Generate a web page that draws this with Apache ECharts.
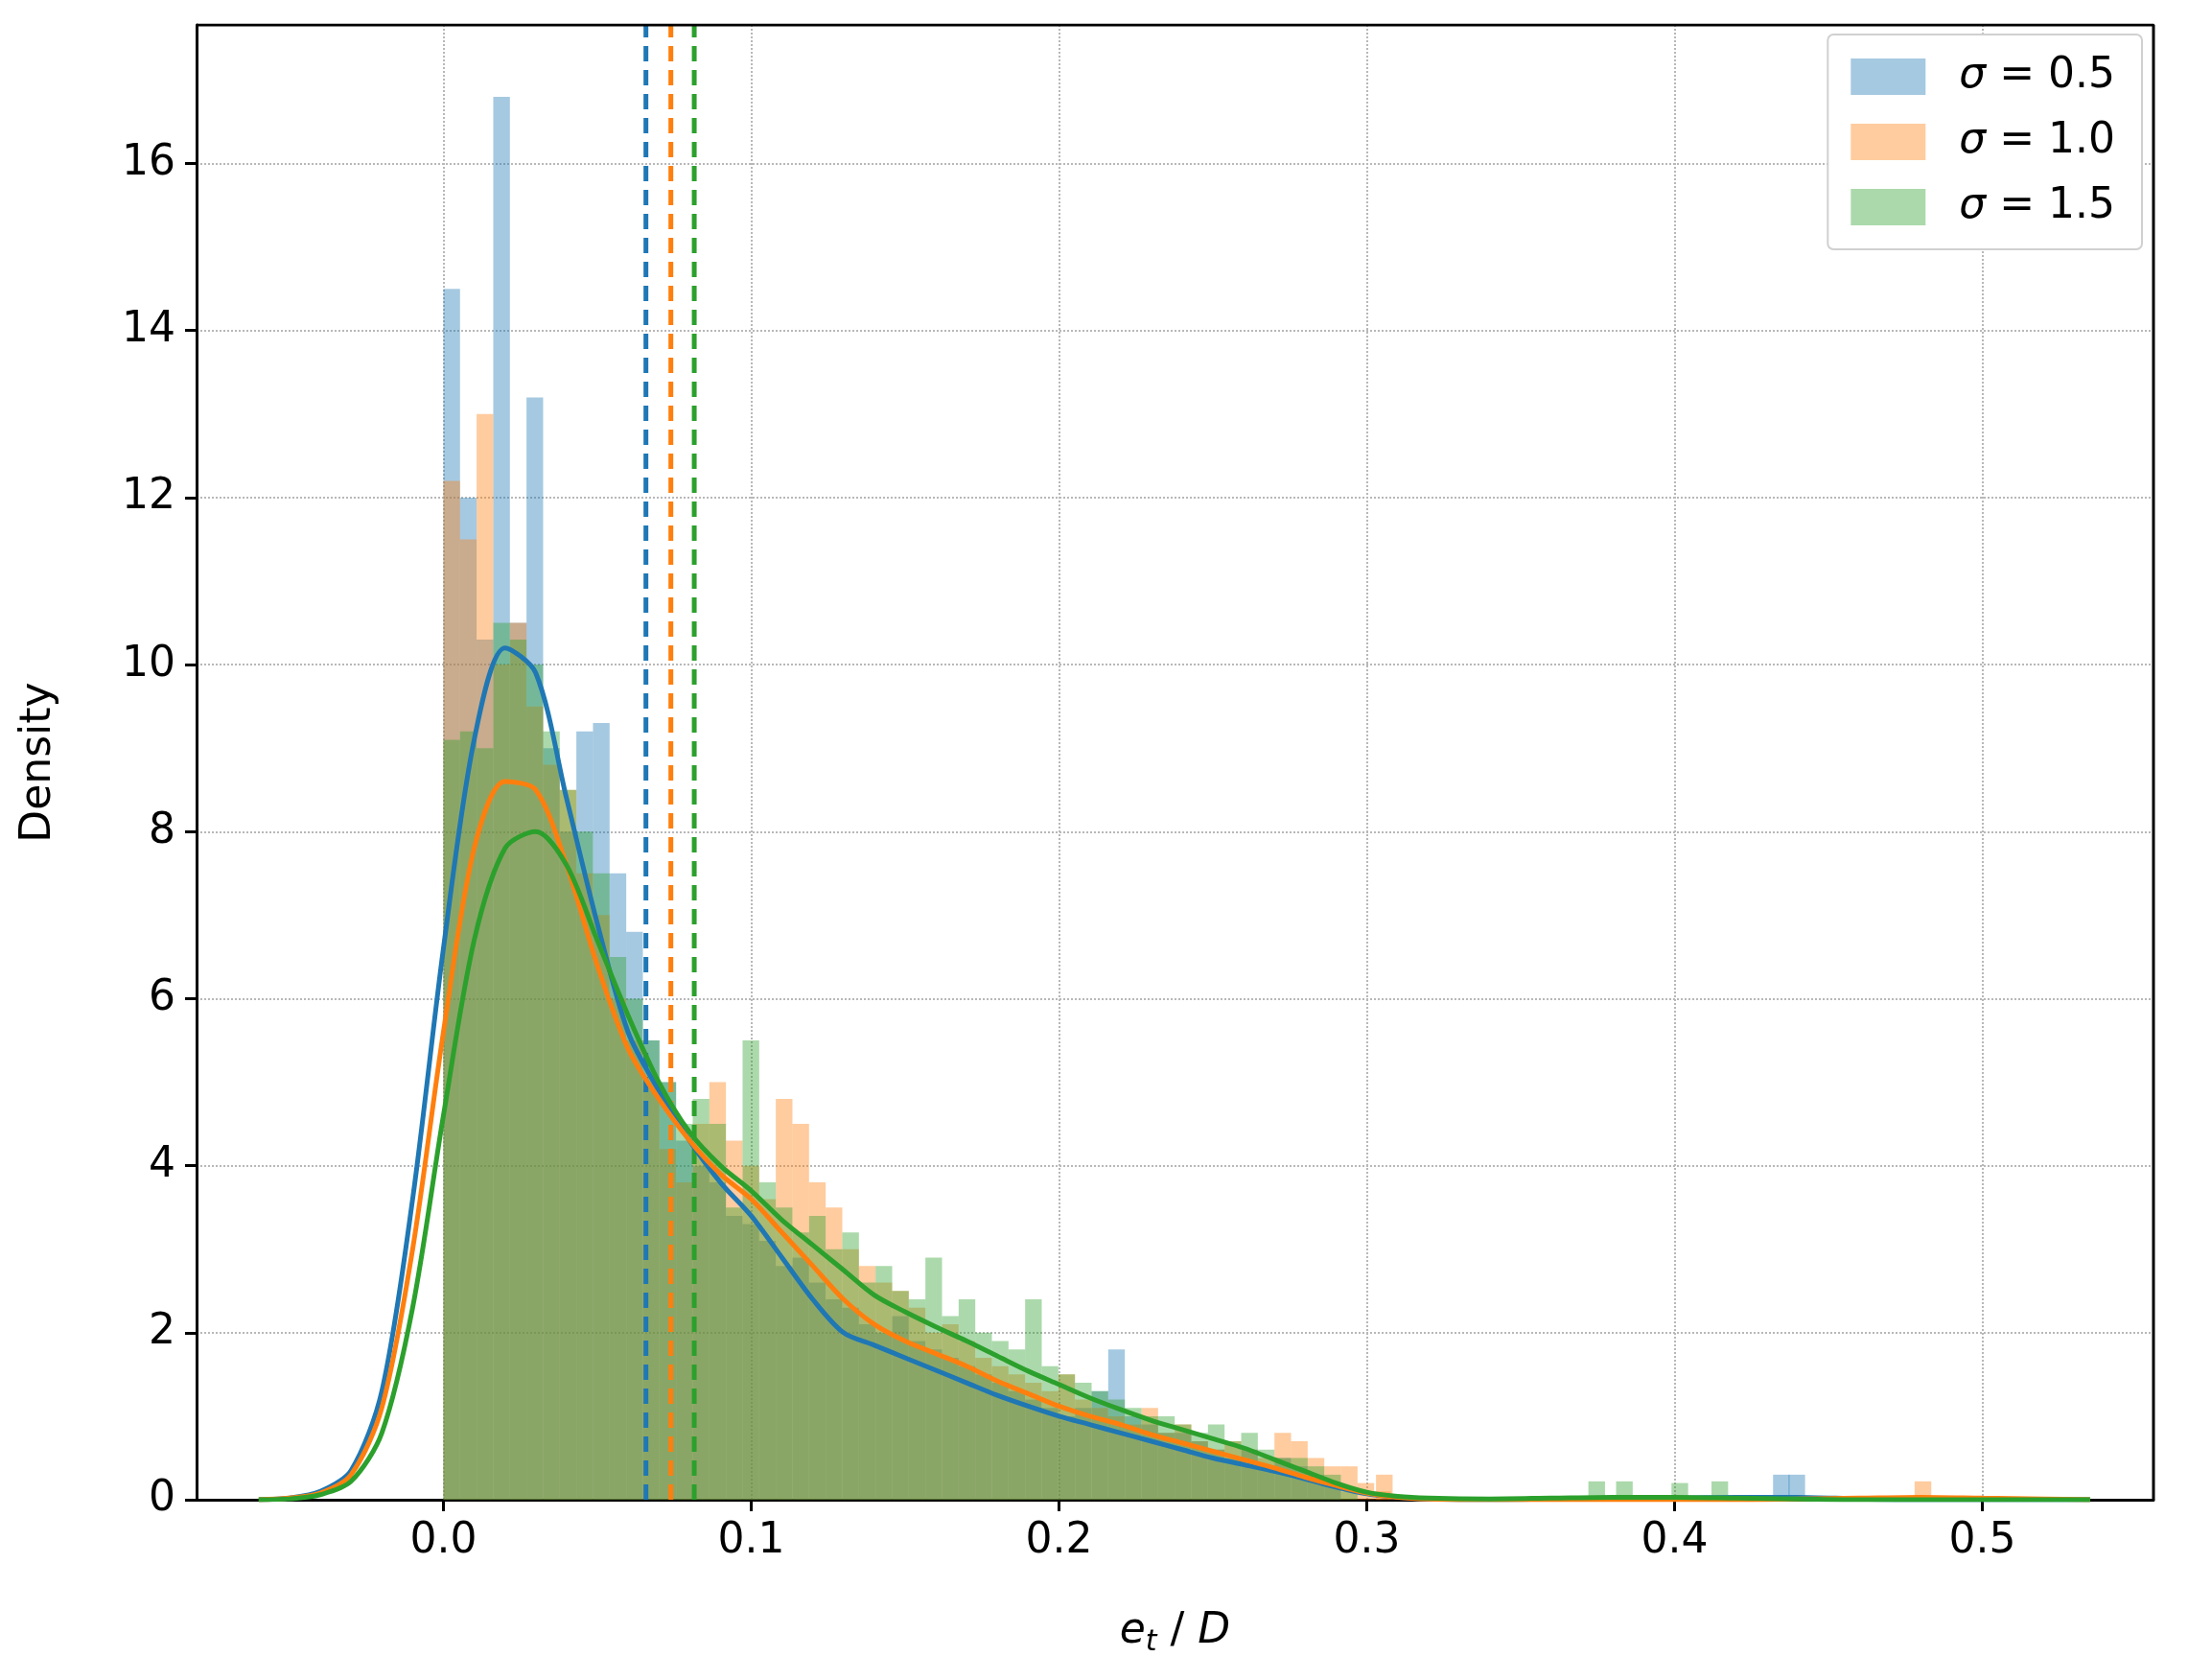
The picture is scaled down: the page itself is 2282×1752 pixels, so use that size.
<!DOCTYPE html>
<html>
<head>
<meta charset="utf-8">
<script src="https://cdn.jsdelivr.net/npm/echarts@6/dist/echarts.min.js"></script>
<style>html,body{margin:0;padding:0;background:#fff}#main{width:2282px;height:1752px}</style>
</head>
<body>
<div id="main"></div>
<script>
// histogram bins start at 0, fixed width
const binWidth = 0.0054;
const histBlue = [14.5,12.0,10.3,16.8,10.5,13.2,9.0,8.0,9.2,9.3,7.5,6.8,5.5,5.0,4.3,4.0,3.8,3.4,3.3,3.1,2.8,2.9,2.6,2.4,2.3,2.1,2.0,2.2,1.9,1.8,1.7,1.6,1.5,1.4,1.3,1.2,1.1,1.0,1.1,1.3,1.8,1.0,0.9,0.8,0.8,0.7,0.6,0.5,0.6,0.4,0.5,0.4,0.3,0.2,0.0];
const histOrange = [12.2,11.5,13.0,10.0,10.5,9.5,8.8,8.5,7.5,7.0,6.0,5.5,5.0,4.2,3.8,4.5,5.0,4.3,4.0,3.6,4.8,4.5,3.8,3.5,3.0,2.8,2.6,2.5,2.3,2.0,2.1,1.9,1.7,1.6,1.5,1.4,1.3,1.5,1.2,1.1,1.0,0.9,1.1,0.8,0.9,0.7,0.6,0.7,0.6,0.5,0.8,0.7,0.5,0.4,0.4,0.2,0.1];
const histGreen = [9.1,9.2,9.0,10.5,10.3,10.0,9.2,8.5,8.0,7.5,6.5,6.0,5.5,5.0,4.5,4.8,4.5,3.5,5.5,3.8,3.5,3.2,3.4,3.0,3.2,2.6,2.8,2.5,2.4,2.9,2.2,2.4,2.0,1.9,1.8,2.4,1.6,1.5,1.4,1.3,1.2,1.1,1.0,1.0,0.9,0.8,0.9,0.7,0.8,0.6,0.5,0.5,0.4,0.3,0.1];
// sparse outlier bins [x, height]
const outBlue = [[0.432,0.3],[0.437,0.3]];
const outOrange = [[0.478,0.22],[0.303,0.3]];
const outGreen = [[0.372,0.22],[0.381,0.22],[0.399,0.2],[0.412,0.22]];

const kdeX = [-0.06,-0.05,-0.04,-0.03,-0.02,-0.01,0,0.01,0.02,0.03,0.04,0.05,0.06,0.07,0.08,0.09,0.1,0.11,0.12,0.13,0.14,0.15,0.16,0.17,0.18,0.19,0.2,0.21,0.22,0.23,0.24,0.25,0.26,0.27,0.28,0.29,0.3,0.31,0.32,0.34,0.36,0.38,0.4,0.42,0.44,0.46,0.48,0.5,0.52,0.535];
const kdeBlue = [0,0.02,0.1,0.35,1.3,3.6,6.6,9.1,10.2,9.9,8.4,6.9,5.6,4.9,4.3,3.8,3.4,2.9,2.4,2.0,1.85,1.7,1.55,1.4,1.25,1.12,1.0,0.9,0.8,0.7,0.6,0.5,0.42,0.34,0.25,0.15,0.07,0.03,0.01,0.0,0.01,0.02,0.02,0.03,0.03,0.01,0.0,0.0,0.0,0.0];
const kdeOrange = [0,0.02,0.08,0.3,1.1,3.0,5.6,7.8,8.6,8.5,7.6,6.4,5.4,4.8,4.3,3.9,3.6,3.2,2.8,2.4,2.1,1.9,1.75,1.6,1.42,1.27,1.12,1.0,0.9,0.78,0.68,0.58,0.48,0.38,0.27,0.17,0.08,0.03,0.01,0.0,0.0,0.0,0.0,0.0,0.01,0.02,0.03,0.02,0.01,0.0];
const kdeGreen = [0,0.01,0.06,0.22,0.8,2.3,4.6,6.7,7.8,8.0,7.6,6.7,5.8,5.0,4.4,4.0,3.7,3.35,3.05,2.75,2.45,2.25,2.07,1.9,1.72,1.54,1.38,1.22,1.08,0.95,0.84,0.73,0.62,0.48,0.34,0.2,0.09,0.04,0.02,0.01,0.02,0.03,0.03,0.02,0.01,0.0,0.0,0.0,0.0,0.0];
// mean markers (dashed verticals)
const meanX = [0.0658, 0.0739, 0.0815];

const names = ['σ = 0.5', 'σ = 1.0', 'σ = 1.5'];
const colors = ['#1f77b4', '#ff7f0e', '#2ca02c'];
const xTicks = [0.0, 0.1, 0.2, 0.3, 0.4, 0.5];
const yMax = 17.66;

function bins(h, out) {
  const d = h.map((v, i) => [i * binWidth, (i + 1) * binWidth, v]);
  out.forEach(o => d.push([o[0], o[0] + binWidth, o[1]]));
  return d;
}

function histSeries(name, color, data) {
  return {
    name: name, type: 'custom', z: 1,
    itemStyle: { color: color, opacity: 0.4 },
    renderItem: function (params, api) {
      const p0 = api.coord([api.value(0), api.value(2)]);
      const p1 = api.coord([api.value(1), 0]);
      return { type: 'rect', shape: { x: p0[0], y: p0[1], width: p1[0] - p0[0], height: p1[1] - p0[1] },
        style: { fill: color, opacity: 0.4 } };
    },
    encode: { x: [0, 1], y: 2 },
    data: data
  };
}

function kdeSeries(ys, color) {
  return { type: 'line', smooth: 0.3, showSymbol: false, z: 5, silent: true,
    lineStyle: { color: color, width: 5 },
    data: kdeX.map((x, i) => [x, ys[i]]) };
}

function vline(x, color) {
  return { type: 'line', showSymbol: false, z: 4, silent: true,
    lineStyle: { color: color, width: 5, type: [16, 9] },
    data: [[x, 0], [x, yMax]] };
}

const chart = echarts.init(document.getElementById('main'));
const font = 'DejaVu Sans';
chart.setOption({
  animation: false,
  textStyle: { fontFamily: font },
  grid: { left: 205, right: 36, top: 26, bottom: 188 },
  legend: {
    data: names.map(n => ({ name: n, icon: 'rect' })), right: 48, top: 36, orient: 'vertical',
    itemWidth: 78, itemHeight: 38, itemGap: 24,
    padding: [22, 28, 22, 24],
    borderColor: '#d0d0d0', borderWidth: 2, borderRadius: 6,
    backgroundColor: '#fff',
    formatter: n => '{g|σ}' + n.slice(1),
    textStyle: { fontSize: 44, color: '#000', fontFamily: font, padding: [0, 0, 0, 30],
      rich: { g: { fontSize: 44, fontStyle: 'italic', fontFamily: font, color: '#000' } } }
  },
  xAxis: {
    type: 'value', min: -0.0802, max: 0.5556,
    name: '{i|e}{s|t}{n| / }{i|D}', nameLocation: 'middle', nameGap: 112,
    nameTextStyle: { rich: {
      i: { fontSize: 44, fontStyle: 'italic', fontFamily: font, color: '#000' },
      s: { fontSize: 30, fontStyle: 'italic', fontFamily: font, color: '#000', padding: [22, 0, 0, 0] },
      n: { fontSize: 44, fontFamily: font, color: '#000' } } },
    axisLine: { onZero: false, lineStyle: { color: '#000', width: 3 } },
    axisTick: { customValues: xTicks, length: 12, lineStyle: { color: '#000', width: 3 } },
    axisLabel: { customValues: xTicks, fontSize: 44, color: '#000', margin: 22,
      formatter: v => v.toFixed(1) },
    splitLine: { show: true, lineStyle: { color: '#b8b8b8', type: 'dotted', width: 2 } }
  },
  yAxis: {
    type: 'value', min: 0, max: yMax, interval: 2,
    name: 'Density', nameLocation: 'middle', nameGap: 142,
    nameTextStyle: { fontSize: 44, color: '#000' },
    axisLine: { show: true, onZero: false, lineStyle: { color: '#000', width: 3 } },
    axisTick: { show: true, length: 12, lineStyle: { color: '#000', width: 3 } },
    axisLabel: { fontSize: 44, color: '#000', margin: 22, showMaxLabel: false },
    splitLine: { show: true, lineStyle: { color: '#b8b8b8', type: 'dotted', width: 2 } }
  },
  series: [
    histSeries(names[0], colors[0], bins(histBlue, outBlue)),
    histSeries(names[1], colors[1], bins(histOrange, outOrange)),
    histSeries(names[2], colors[2], bins(histGreen, outGreen)),
    kdeSeries(kdeBlue, colors[0]),
    kdeSeries(kdeOrange, colors[1]),
    kdeSeries(kdeGreen, colors[2]),
    vline(meanX[0], colors[0]),
    vline(meanX[1], colors[1]),
    vline(meanX[2], colors[2]),
    // right and top frame
    { type: 'line', showSymbol: false, silent: true, z: 6, lineStyle: { color: '#000', width: 3 },
      data: [[-0.0802, yMax], [0.5556, yMax], [0.5556, 0]] }
  ]
});
</script>
</body>
</html>
